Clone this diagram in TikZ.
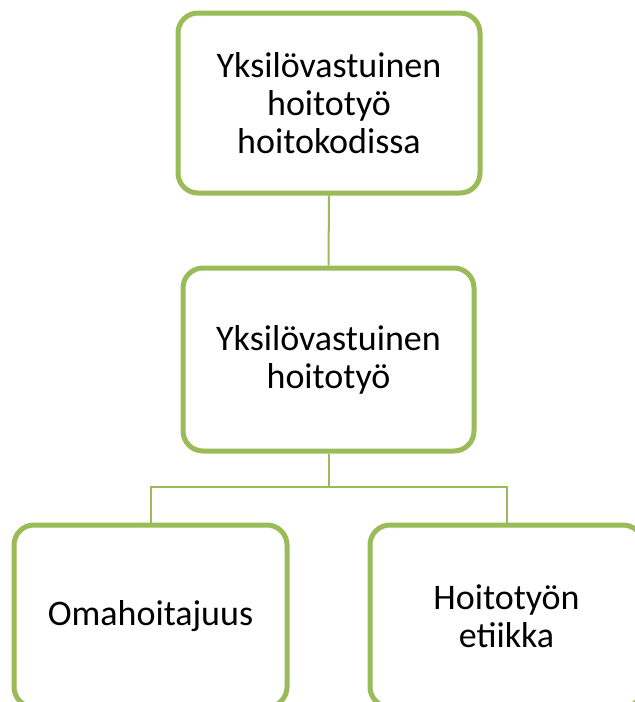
\documentclass[tikz,border=0pt]{standalone}
\usepackage{fontspec}
\setmainfont{Carlito}
\usetikzlibrary{positioning}
\definecolor{boxGreen}{HTML}{9BBB59}

\begin{document}
\begin{tikzpicture}[x=1pt, y=-1pt, every node/.style={font=\fontsize{36}{38}\selectfont}] % Hoitotyo tree
	\tikzset{
		hoitoBox/.style={draw=boxGreen, line width=5pt, rounded corners=20pt, fill=white, align=center, inner sep=0pt},
		hoitoLink/.style={draw=boxGreen, line width=2pt}
	}
	\clip (0,0) rectangle (635,702);
	\useasboundingbox (0,0) rectangle (635,702);
	% Boxes
	\node[hoitoBox, minimum width=302pt, minimum height=180pt] (kotiBox) at (329,103) {Yksilövastuinen\\hoitotyö\\hoitokodissa};
	\node[hoitoBox, minimum width=291pt, minimum height=183pt] (yksiBox) at (328.5,359.5) {Yksilövastuinen\\hoitotyö};
	\node[hoitoBox, minimum width=273pt, minimum height=182pt] (omaBox) at (150.5,616) {Omahoitajuus};
	\node[hoitoBox, minimum width=273pt, minimum height=182pt] (etiikkaBox) at (506.5,616) {Hoitotyön\\etiikka};
	% Connectors
	\coordinate (haara) at (328.5,487);
	\draw[hoitoLink] (kotiBox.south) -- (yksiBox.north);
	\draw[hoitoLink] (yksiBox.south) -- (haara);
	\draw[hoitoLink] (haara) -| (omaBox.north);
	\draw[hoitoLink] (haara) -| (etiikkaBox.north);
\end{tikzpicture}
\end{document}
